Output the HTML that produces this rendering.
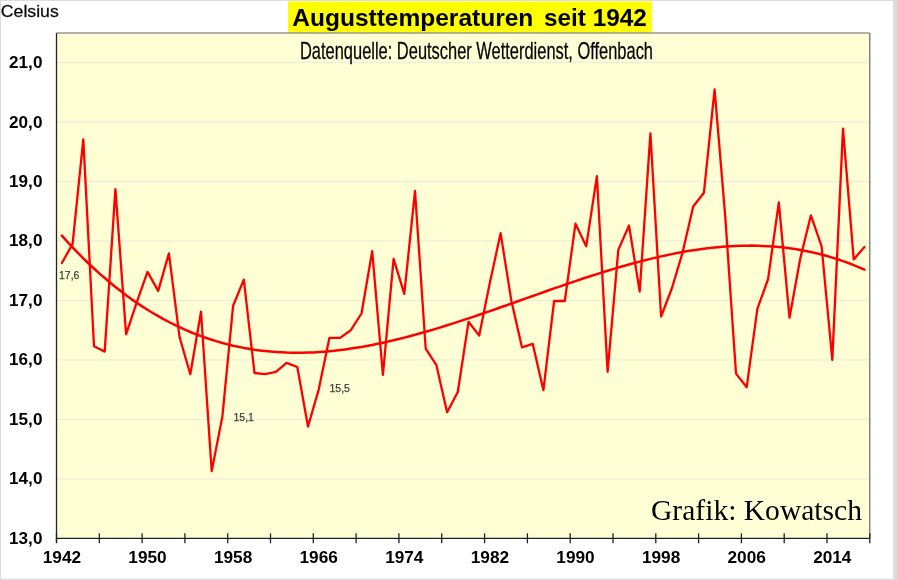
<!DOCTYPE html>
<html lang="de"><head><meta charset="utf-8"><title>Augusttemperaturen seit 1942</title>
<style>
html,body{margin:0;padding:0;background:#fff;}
body{width:897px;height:580px;overflow:hidden;}
svg{display:block;}
#chart{filter:blur(0.55px);}
text{font-family:"Liberation Sans",Arial,sans-serif;fill:#000;}
.yl text{font-weight:bold;font-size:16px;}
.xl text{font-weight:bold;font-size:16px;text-anchor:middle;}
.dl text{font-size:10.5px;fill:#404040;stroke:#404040;stroke-width:0.25px;}
</style></head><body>
<svg width="897" height="580" viewBox="0 0 897 580">
<rect x="0" y="0" width="897" height="580" fill="#ffffff"/>
<rect x="0" y="0" width="897" height="1" fill="#dcdcdc"/>
<rect x="0" y="0" width="1" height="580" fill="#dcdcdc"/>
<rect x="893" y="0" width="4" height="580" fill="#dcdcdc"/>
<rect x="0" y="578.6" width="897" height="1.4" fill="#dcdcdc"/>
<g id="chart">
<rect x="56.5" y="33" width="813.3" height="505.3" fill="#ffffd6"/>
<g stroke="#eeedda" stroke-width="1.3"><line x1="56.5" x2="869.8" y1="478.8" y2="478.8"/><line x1="56.5" x2="869.8" y1="419.4" y2="419.4"/><line x1="56.5" x2="869.8" y1="359.9" y2="359.9"/><line x1="56.5" x2="869.8" y1="300.4" y2="300.4"/><line x1="56.5" x2="869.8" y1="240.9" y2="240.9"/><line x1="56.5" x2="869.8" y1="181.5" y2="181.5"/><line x1="56.5" x2="869.8" y1="122.0" y2="122.0"/><line x1="56.5" x2="869.8" y1="62.5" y2="62.5"/></g>
<rect x="288" y="1.5" width="364" height="31" fill="#ffff00"/>
<text y="25.7" font-weight="bold" font-size="24"><tspan x="292.3" textLength="241" lengthAdjust="spacingAndGlyphs">Augusttemperaturen</tspan> <tspan x="544" textLength="102.8" lengthAdjust="spacingAndGlyphs">seit 1942</tspan></text>
<text x="300" y="59.1" font-size="23.2" textLength="353" lengthAdjust="spacingAndGlyphs" fill="#1a1a1a" stroke="#1a1a1a" stroke-width="0.3">Datenquelle: Deutscher Wetterdienst, Offenbach</text>
<text x="0.8" y="16.7" font-size="17" fill="#2a2a2a" stroke="#2a2a2a" stroke-width="0.3" textLength="58" lengthAdjust="spacingAndGlyphs">Celsius</text>
<polyline points="61.9,263.0 72.6,243.9 83.3,139.3 94.0,346.2 104.7,351.6 115.4,189.2 126.1,334.3 136.8,302.2 147.5,271.9 158.2,290.9 168.9,253.4 179.6,337.3 190.3,374.2 201.0,311.7 211.7,471.1 222.4,416.4 233.1,305.8 243.8,279.6 254.5,373.0 265.2,374.2 275.9,371.8 286.6,362.9 297.3,367.0 308.0,426.5 318.7,389.6 329.4,337.9 340.1,337.9 350.8,330.2 361.5,313.5 372.2,251.1 382.9,374.8 393.6,258.8 404.3,293.9 415.0,191.0 425.7,348.6 436.4,365.2 447.1,412.2 457.8,392.0 468.5,321.8 479.2,335.5 489.9,282.6 500.6,233.2 511.3,300.4 522.0,347.4 532.7,343.8 543.4,390.2 554.1,301.0 564.8,301.0 575.5,223.7 586.2,246.3 596.9,176.1 607.6,371.8 618.3,249.9 629.0,225.5 639.7,291.5 650.4,133.3 661.1,316.5 671.8,288.5 682.5,252.8 693.2,206.5 703.9,192.8 714.6,89.3 725.3,217.2 736.0,373.6 746.7,387.2 757.4,308.7 768.1,279.0 778.8,202.3 789.5,317.7 800.2,258.8 810.9,215.4 821.6,246.3 832.3,359.9 843.0,128.6 853.7,259.4 864.4,246.9" fill="none" stroke="#ff0000" stroke-width="2.3" stroke-linejoin="round" stroke-linecap="round"/>
<polyline points="61.9,235.7 67.2,241.6 72.6,247.3 77.9,252.9 83.3,258.3 88.6,263.5 94.0,268.5 99.3,273.4 104.7,278.0 110.0,282.6 115.4,286.9 120.7,291.1 126.1,295.2 131.4,299.1 136.8,302.8 142.1,306.4 147.5,309.8 152.8,313.0 158.2,316.2 163.5,319.2 168.9,322.0 174.2,324.7 179.6,327.2 184.9,329.7 190.3,332.0 195.6,334.1 201.0,336.1 206.3,338.0 211.7,339.8 217.0,341.4 222.4,343.0 227.7,344.4 233.1,345.7 238.4,346.8 243.8,347.9 249.1,348.8 254.5,349.7 259.8,350.4 265.2,351.1 270.5,351.6 275.9,352.0 281.2,352.3 286.6,352.6 291.9,352.7 297.3,352.7 302.6,352.7 308.0,352.6 313.3,352.4 318.7,352.1 324.0,351.7 329.4,351.2 334.7,350.7 340.1,350.1 345.4,349.4 350.8,348.6 356.1,347.8 361.5,346.9 366.8,345.9 372.2,344.9 377.5,343.8 382.9,342.7 388.2,341.5 393.6,340.3 398.9,339.0 404.3,337.6 409.6,336.2 415.0,334.8 420.3,333.3 425.7,331.8 431.0,330.2 436.4,328.6 441.7,327.0 447.1,325.3 452.4,323.6 457.8,321.9 463.1,320.1 468.5,318.4 473.9,316.6 479.2,314.8 484.6,312.9 489.9,311.1 495.3,309.2 500.6,307.3 506.0,305.5 511.3,303.6 516.7,301.7 522.0,299.8 527.4,297.9 532.7,296.0 538.1,294.1 543.4,292.2 548.8,290.3 554.1,288.4 559.5,286.6 564.8,284.7 570.2,282.9 575.5,281.1 580.9,279.3 586.2,277.5 591.6,275.8 596.9,274.1 602.3,272.4 607.6,270.8 613.0,269.1 618.3,267.5 623.7,266.0 629.0,264.5 634.4,263.0 639.7,261.6 645.1,260.2 650.4,258.9 655.8,257.6 661.1,256.4 666.5,255.2 671.8,254.1 677.2,253.1 682.5,252.1 687.9,251.1 693.2,250.3 698.6,249.5 703.9,248.7 709.3,248.1 714.6,247.5 720.0,247.0 725.3,246.6 730.7,246.2 736.0,245.9 741.4,245.8 746.7,245.7 752.1,245.6 757.4,245.7 762.8,245.9 768.1,246.2 773.5,246.5 778.8,247.0 784.2,247.6 789.5,248.2 794.9,249.0 800.2,249.9 805.6,250.9 810.9,252.0 816.3,253.2 821.6,254.5 827.0,256.0 832.3,257.6 837.7,259.3 843.0,261.1 848.4,263.0 853.7,265.1 859.1,267.3 864.4,269.7" fill="none" stroke="#ff0000" stroke-width="2.5" stroke-linejoin="round" stroke-linecap="round"/>
<g class="dl"><text x="59" y="278.8">17,6</text><text x="233.5" y="420.5">15,1</text><text x="329.5" y="391.8">15,5</text></g>
<text x="651" y="519.8" style="font-family:'Liberation Serif','Times New Roman',serif" font-size="28.5" textLength="211" lengthAdjust="spacingAndGlyphs">Grafik: Kowatsch</text>
<g stroke="#222" stroke-width="1.3"><line x1="56.5" x2="56.5" y1="33" y2="542.3"/><line x1="56.5" x2="869.8" y1="538.3" y2="538.3"/><line x1="56.5" x2="869.8" y1="33" y2="33" stroke="#666" stroke-width="1.2"/><line x1="869.8" x2="869.8" y1="33" y2="538.3" stroke="#666" stroke-width="1.2"/><line x1="56.5" x2="56.5" y1="533.3" y2="543.3"/><line x1="99.3" x2="99.3" y1="533.3" y2="543.3"/><line x1="142.1" x2="142.1" y1="533.3" y2="543.3"/><line x1="184.9" x2="184.9" y1="533.3" y2="543.3"/><line x1="227.7" x2="227.7" y1="533.3" y2="543.3"/><line x1="270.5" x2="270.5" y1="533.3" y2="543.3"/><line x1="313.3" x2="313.3" y1="533.3" y2="543.3"/><line x1="356.1" x2="356.1" y1="533.3" y2="543.3"/><line x1="398.9" x2="398.9" y1="533.3" y2="543.3"/><line x1="441.7" x2="441.7" y1="533.3" y2="543.3"/><line x1="484.6" x2="484.6" y1="533.3" y2="543.3"/><line x1="527.4" x2="527.4" y1="533.3" y2="543.3"/><line x1="570.2" x2="570.2" y1="533.3" y2="543.3"/><line x1="613.0" x2="613.0" y1="533.3" y2="543.3"/><line x1="655.8" x2="655.8" y1="533.3" y2="543.3"/><line x1="698.6" x2="698.6" y1="533.3" y2="543.3"/><line x1="741.4" x2="741.4" y1="533.3" y2="543.3"/><line x1="784.2" x2="784.2" y1="533.3" y2="543.3"/><line x1="827.0" x2="827.0" y1="533.3" y2="543.3"/><line x1="869.8" x2="869.8" y1="533.3" y2="543.3"/></g>
<g class="yl"><text x="9.1" y="543.8" textLength="33.3" lengthAdjust="spacingAndGlyphs">13,0</text><text x="9.1" y="484.3" textLength="33.3" lengthAdjust="spacingAndGlyphs">14,0</text><text x="9.1" y="424.9" textLength="33.3" lengthAdjust="spacingAndGlyphs">15,0</text><text x="9.1" y="365.4" textLength="33.3" lengthAdjust="spacingAndGlyphs">16,0</text><text x="9.1" y="305.9" textLength="33.3" lengthAdjust="spacingAndGlyphs">17,0</text><text x="9.1" y="246.4" textLength="33.3" lengthAdjust="spacingAndGlyphs">18,0</text><text x="9.1" y="187.0" textLength="33.3" lengthAdjust="spacingAndGlyphs">19,0</text><text x="9.1" y="127.5" textLength="33.3" lengthAdjust="spacingAndGlyphs">20,0</text><text x="9.1" y="68.0" textLength="33.3" lengthAdjust="spacingAndGlyphs">21,0</text></g>
<g class="xl"><text x="61.9" y="563.3" textLength="38.3" lengthAdjust="spacingAndGlyphs">1942</text><text x="147.5" y="563.3" textLength="38.3" lengthAdjust="spacingAndGlyphs">1950</text><text x="233.1" y="563.3" textLength="38.3" lengthAdjust="spacingAndGlyphs">1958</text><text x="318.7" y="563.3" textLength="38.3" lengthAdjust="spacingAndGlyphs">1966</text><text x="404.3" y="563.3" textLength="38.3" lengthAdjust="spacingAndGlyphs">1974</text><text x="489.9" y="563.3" textLength="38.3" lengthAdjust="spacingAndGlyphs">1982</text><text x="575.5" y="563.3" textLength="38.3" lengthAdjust="spacingAndGlyphs">1990</text><text x="661.1" y="563.3" textLength="38.3" lengthAdjust="spacingAndGlyphs">1998</text><text x="746.7" y="563.3" textLength="38.3" lengthAdjust="spacingAndGlyphs">2006</text><text x="832.3" y="563.3" textLength="38.3" lengthAdjust="spacingAndGlyphs">2014</text></g>
</g>
</svg>
</body></html>
